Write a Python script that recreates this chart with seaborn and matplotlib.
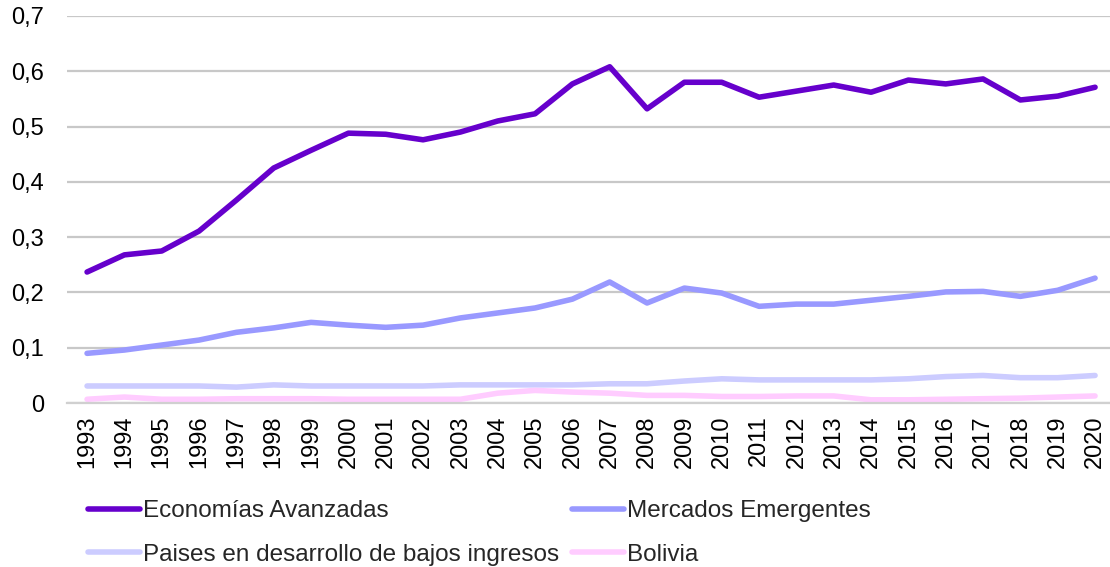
import matplotlib
matplotlib.use("Agg")
import matplotlib.pyplot as plt
import seaborn as sns
import pandas as pd
from matplotlib.ticker import FuncFormatter

years = list(range(1993, 2021))

avanzadas = [0.237, 0.268, 0.275, 0.311, 0.367, 0.425, 0.457, 0.488, 0.486, 0.476,
             0.490, 0.510, 0.523, 0.577, 0.608, 0.532, 0.580, 0.580, 0.553, 0.564,
             0.575, 0.562, 0.584, 0.577, 0.586, 0.548, 0.555, 0.571]
emergentes = [0.090, 0.096, 0.105, 0.114, 0.128, 0.136, 0.146, 0.141, 0.137, 0.141,
              0.154, 0.163, 0.172, 0.188, 0.219, 0.181, 0.208, 0.199, 0.175, 0.179,
              0.179, 0.186, 0.193, 0.201, 0.202, 0.193, 0.204, 0.226]
bajos_ingresos = [0.031, 0.031, 0.031, 0.031, 0.029, 0.033, 0.031, 0.031, 0.031, 0.031,
                  0.033, 0.033, 0.033, 0.033, 0.035, 0.035, 0.040, 0.044, 0.042, 0.042,
                  0.042, 0.042, 0.044, 0.048, 0.050, 0.046, 0.046, 0.050]
bolivia = [0.007, 0.011, 0.007, 0.007, 0.008, 0.008, 0.008, 0.007, 0.007, 0.007,
           0.007, 0.018, 0.023, 0.020, 0.018, 0.014, 0.014, 0.012, 0.012, 0.013,
           0.013, 0.006, 0.006, 0.007, 0.008, 0.009, 0.011, 0.013]

series_names = ["Economías Avanzadas", "Mercados Emergentes",
                "Paises en desarrollo de bajos ingresos", "Bolivia"]
colors = ["#6600CC", "#9999FF", "#CCCCFF", "#FFCCFF"]

df = pd.DataFrame({"year": years,
                   series_names[0]: avanzadas,
                   series_names[1]: emergentes,
                   series_names[2]: bajos_ingresos,
                   series_names[3]: bolivia})
long_df = df.melt(id_vars="year", var_name="serie", value_name="valor")

sns.set_style("white")
plt.rcParams["font.family"] = ["Liberation Sans", "DejaVu Sans"]

fig = plt.figure(figsize=(11.1, 5.67), dpi=100)
ax = fig.add_axes([0.0604, 0.289, 0.9396, 0.683])

sns.lineplot(data=long_df, x="year", y="valor", hue="serie",
             hue_order=series_names, palette=colors, linewidth=4,
             ax=ax, legend=True)

ax.set_ylim(0, 0.7)
ax.set_xlim(1992.464, 2020.40)
ax.set_yticks([0, 0.1, 0.2, 0.3, 0.4, 0.5, 0.6, 0.7])
ax.yaxis.set_major_formatter(FuncFormatter(lambda v, p: "0" if v == 0 else f"{v:.1f}".replace(".", ",")))
ax.set_xticks(years)
ax.set_xticklabels([str(y) for y in years], rotation=90)
ax.tick_params(axis="both", labelsize=17, length=0, colors="#000000")
ax.tick_params(axis="y", pad=16.5)
ax.tick_params(axis="x", pad=9)
ax.grid(axis="y", color="#C8C8C8", linewidth=1.6)
ax.set_axisbelow(True)
for s in ["top", "right", "left"]:
    ax.spines[s].set_visible(False)
ax.spines["bottom"].set_color("#D0D0D0")
ax.spines["bottom"].set_linewidth(1.6)
ax.set_xlabel("")
ax.set_ylabel("")

# legend in two columns, filled row by row
handles, labels = ax.get_legend_handles_labels()
ax.get_legend().remove()
order = [0, 2, 1, 3]
fig.legend([handles[i] for i in order], [labels[i] for i in order],
           loc="upper left", bbox_to_anchor=(88 / 1110, 1 - 500 / 567),
           ncol=2, frameon=False, fontsize=17.5, handlelength=2.15,
           handletextpad=0.13, columnspacing=0.5, labelspacing=0.9,
           borderpad=0, borderaxespad=0)

fig.savefig("out.png", dpi=100)
